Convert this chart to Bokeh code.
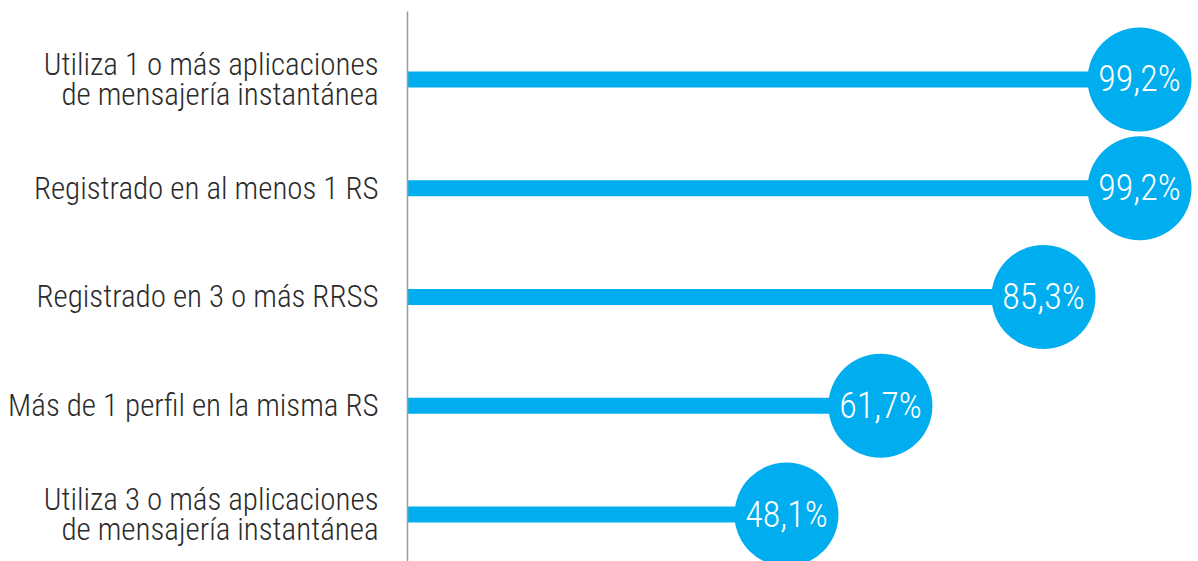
from bokeh.plotting import figure
from bokeh.models import Range1d, FixedTicker, ColumnDataSource
from bokeh.core.properties import value
from bokeh.embed import file_html
from bokeh.resources import INLINE

categories = [
    "Utiliza 1 o más aplicaciones\nde mensajería instantánea",
    "Registrado en al menos 1 RS",
    "Registrado en 3 o más RRSS",
    "Más de 1 perfil en la misma RS",
    "Utiliza 3 o más aplicaciones\nde mensajería instantánea",
]
values = [99.2, 99.2, 85.3, 61.7, 48.1]
value_labels = ["99,2%", "99,2%", "85,3%", "61,7%", "48,1%"]

BLUE = "#00aeef"
FONT = "'Roboto Condensed Light', 'Roboto Condensed', 'DejaVu Sans Condensed', sans-serif"

rows = list(range(len(categories)))
x_start, x_end = -6.74, 107.73

src = ColumnDataSource(dict(
    y=rows,
    x=values,
    x0=[x_start] * len(values),
    lab=value_labels,
))

p = figure(
    width=1198, height=561,
    x_range=Range1d(x_start, x_end),
    y_range=Range1d(4.432, -0.625),
    output_backend="svg", toolbar_location=None,
    min_border_left=407, min_border_right=0,
    min_border_top=11, min_border_bottom=0,
    x_axis_location=None,
)
p.outline_line_color = None
p.xgrid.visible = False
p.ygrid.visible = False
p.background_fill_color = "white"
p.border_fill_color = "white"

p.segment(x0="x0", y0="y", x1="x", y1="y", source=src,
          line_color=BLUE, line_width=16, line_cap="butt")
p.scatter(x="x", y="y", source=src, size=104, marker="circle",
          fill_color=BLUE, line_color=None)
p.text(x="x", y="y", text="lab", source=src,
       text_color="white", text_font=value(FONT), text_font_size="36px",
       text_align="center", text_baseline="middle")

ax = p.yaxis[0]
ax.ticker = FixedTicker(ticks=rows)
ax.major_label_overrides = {i: c for i, c in zip(rows, categories)}
ax.major_tick_line_color = None
ax.minor_tick_line_color = None
ax.axis_line_color = "#9a9a9a"
ax.axis_line_width = 1.5
ax.major_label_standoff = 23
ax.major_label_text_font = FONT
ax.major_label_text_font_size = "31px"
ax.major_label_text_line_height = 0.82
ax.major_label_text_color = "#2b2b2b"

open("out.html", "w").write(file_html(p, INLINE))
